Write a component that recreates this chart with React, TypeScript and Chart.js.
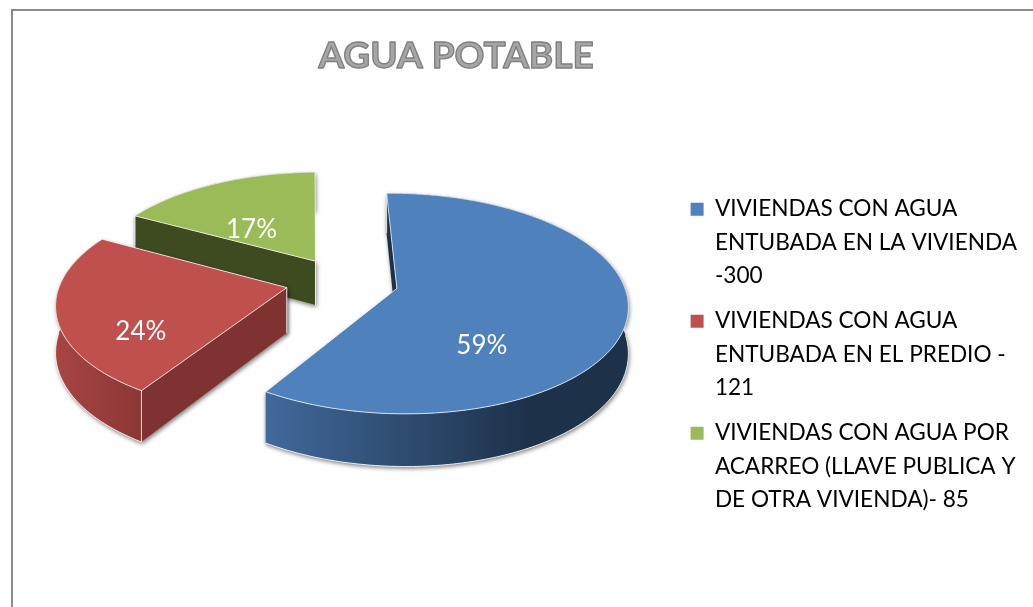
import React, { useEffect, useRef } from "react";
import { Chart, registerables } from "chart.js";

Chart.register(...registerables);

const TITLE = "AGUA POTABLE";
const CATEGORIES = [
  ["VIVIENDAS CON AGUA", "ENTUBADA EN LA VIVIENDA", "-300"],
  ["VIVIENDAS CON AGUA", "ENTUBADA EN EL PREDIO -", "121"],
  ["VIVIENDAS CON AGUA POR", "ACARREO (LLAVE PUBLICA Y", "DE OTRA VIVIENDA)- 85"],
];
const VALUES = [300, 121, 85];
const COLORS = ["#4f81bd", "#c0504d", "#9bbb59"];
const EXPLODE = [230, 222, 202];
const CUT_COLORS = ["#1d3149", "#7f3331", "#3e4a20"];
const RIM_COLORS = [
  ["#41699b", "#1d3149"],
  ["#a84543", "#8a3634"],
  ["#5d7032", "#3e4a20"],
];
const RIM_SPAN = [265, 90, 100];
const LABEL_SHIFT = [
  [85, 57],
  [-146, 44],
  [-64, -32],
];

const FONT = "Lato, Carlito, Calibri, sans-serif";
const CENTER_X = 341;
const CENTER_Y = 281;
const RATIO = 0.47;
const TILT = 0.136;
const DEPTH = 45;

const pie3d = {
  id: "pie3d",
  beforeDraw(chart: any) {
    const ctx = chart.ctx;
    ctx.save();
    ctx.fillStyle = "#ffffff";
    ctx.fillRect(0, 0, chart.width, chart.height);
    ctx.strokeStyle = "#8a8a8a";
    ctx.lineWidth = 2;
    ctx.strokeRect(12, 10, 2000, 2000);
    ctx.restore();
  },
  beforeDatasetsDraw(chart: any) {
    const ctx = chart.ctx;
    const arcs = chart.getDatasetMeta(0).data;
    const total = VALUES.reduce((a, b) => a + b, 0);
    const order = [2, 1, 0];
    for (const i of order) {
      const arc = arcs[i];
      const { startAngle, endAngle, outerRadius } = arc.getProps(["startAngle", "endAngle", "outerRadius"], true);
      const R = outerRadius;
      const mid = (startAngle + endAngle) / 2;
      const off = (arc.options.offset || 0) / 4;
      const ox = Math.cos(mid) * off;
      const oy = Math.sin(mid) * off;
      const proj = (x: number, y: number, z: number) => {
        const px = x + ox;
        const py = y + oy;
        const p = 1 / (1 - (TILT * py) / R);
        return [CENTER_X + px * p, CENTER_Y + py * RATIO * p + z * p];
      };
      const steps = Math.ceil(((endAngle - startAngle) * 180) / Math.PI);
      const angleAt = (s: number) => startAngle + ((endAngle - startAngle) * s) / steps;
      const rim = (z: number) => {
        const pts: number[][] = [];
        for (let s = 0; s <= steps; s++) {
          const a = angleAt(s);
          pts.push(proj(R * Math.cos(a), R * Math.sin(a), z));
        }
        return pts;
      };
      const top = rim(0);
      const bottom = rim(DEPTH);
      const apexTop = proj(0, 0, 0);
      const apexBottom = proj(0, 0, DEPTH);
      const poly = (pts: number[][]) => {
        ctx.beginPath();
        pts.forEach((p, k) => (k ? ctx.lineTo(p[0], p[1]) : ctx.moveTo(p[0], p[1])));
        ctx.closePath();
      };
      const startFace = [apexTop, top[0], bottom[0], apexBottom];
      const endFace = [apexTop, top[steps], bottom[steps], apexBottom];
      const startVisible = Math.sin(startAngle - Math.PI / 2) > 0;
      const endVisible = Math.sin(endAngle + Math.PI / 2) > 0;
      const strip = [...top, ...bottom.slice().reverse()];
      const minX = Math.min(...strip.map((p) => p[0]));
      const grad = ctx.createLinearGradient(minX, 0, minX + RIM_SPAN[i], 0);
      grad.addColorStop(0, RIM_COLORS[i][0]);
      grad.addColorStop(1, RIM_COLORS[i][1]);

      ctx.save();
      ctx.lineJoin = "round";
      ctx.shadowColor = "rgba(0,0,0,0.5)";
      ctx.shadowBlur = 4;
      ctx.shadowOffsetX = 1;
      ctx.shadowOffsetY = 2;
      ctx.fillStyle = "#d9d9d9";
      for (const f of [strip, startFace, endFace]) {
        poly(f);
        ctx.fill();
      }
      ctx.shadowColor = "transparent";
      ctx.fillStyle = grad;
      poly(strip);
      ctx.fill();
      ctx.fillStyle = CUT_COLORS[i];
      if (startVisible) {
        poly(startFace);
        ctx.fill();
      }
      if (endVisible) {
        poly(endFace);
        ctx.fill();
      }

      ctx.strokeStyle = "rgba(255,255,255,0.85)";
      ctx.lineWidth = 1;
      ctx.beginPath();
      let pen = false;
      bottom.forEach((p, k) => {
        if (Math.sin(angleAt(k)) <= 0) {
          pen = false;
          return;
        }
        if (pen) ctx.lineTo(p[0], p[1]);
        else ctx.moveTo(p[0], p[1]);
        pen = true;
      });
      ctx.stroke();
      ctx.beginPath();
      if (startVisible || endVisible) {
        ctx.moveTo(apexTop[0], apexTop[1]);
        ctx.lineTo(apexBottom[0], apexBottom[1]);
      }
      if (startVisible) {
        ctx.moveTo(top[0][0], top[0][1]);
        ctx.lineTo(bottom[0][0], bottom[0][1]);
      }
      if (endVisible) {
        ctx.moveTo(top[steps][0], top[steps][1]);
        ctx.lineTo(bottom[steps][0], bottom[steps][1]);
      }
      ctx.stroke();

      const face = [apexTop, ...top];
      poly(face);
      ctx.fillStyle = COLORS[i];
      ctx.fill();
      ctx.strokeStyle = "rgba(255,255,255,0.75)";
      ctx.stroke();
      ctx.restore();
    }
    for (const i of order) {
      const arc = arcs[i];
      const { startAngle, endAngle, outerRadius } = arc.getProps(["startAngle", "endAngle", "outerRadius"], true);
      const mid = (startAngle + endAngle) / 2;
      const off = (arc.options.offset || 0) / 4;
      const px = Math.cos(mid) * off;
      const py = Math.sin(mid) * off;
      const p = 1 / (1 - (TILT * py) / outerRadius);
      ctx.save();
      ctx.fillStyle = "#ffffff";
      ctx.font = `26px ${FONT}`;
      ctx.textAlign = "center";
      ctx.textBaseline = "middle";
      ctx.fillText(
        `${Math.round((VALUES[i] / total) * 100)}%`,
        CENTER_X + px * p + LABEL_SHIFT[i][0],
        CENTER_Y + py * RATIO * p + LABEL_SHIFT[i][1]
      );
      ctx.restore();
    }
    return false;
  },
  afterDraw(chart: any) {
    const ctx = chart.ctx;
    const t = chart.titleBlock;
    const opts = chart.options.plugins.title;
    ctx.save();
    ctx.font = `bold ${opts.font.size}px ${FONT}`;
    ctx.textAlign = "center";
    ctx.textBaseline = "middle";
    ctx.strokeStyle = "#808080";
    ctx.lineWidth = 1.4;
    ctx.lineJoin = "round";
    ctx.strokeText(TITLE, (t.left + t.right) / 2, t.top + opts.padding.top + (opts.font.size * 1.2) / 2);
    ctx.restore();
  },
};

export default function App() {
  const ref = useRef<HTMLCanvasElement>(null);
  useEffect(() => {
    const canvas = ref.current!;
    const ctx = canvas.getContext("2d")!;
    const titleFill = ctx.createLinearGradient(0, 42, 0, 68);
    titleFill.addColorStop(0, "#a6a6a6");
    titleFill.addColorStop(0.55, "#c0c0c0");
    titleFill.addColorStop(1, "#ececec");
    const chart = new Chart(canvas, {
      type: "pie",
      data: {
        labels: CATEGORIES as any,
        datasets: [
          {
            data: VALUES,
            backgroundColor: COLORS,
            offset: EXPLODE,
            borderWidth: 0,
          },
        ],
      },
      options: {
        responsive: false,
        animation: false,
        rotation: -1,
        radius: 226,
        layout: { padding: { top: 0, right: 6, bottom: 0, left: 233 } },
        plugins: {
          tooltip: { enabled: false },
          title: {
            display: true,
            text: TITLE,
            color: titleFill as any,
            font: { family: FONT, size: 37, weight: "bold", lineHeight: 1.2 },
            padding: { top: 34, bottom: 108 },
            align: "center",
            fullSize: false,
          },
          legend: {
            position: "right",
            align: "start",
            fullSize: false,
            labels: {
              color: "#000000",
              boxWidth: 13,
              boxHeight: 13,
              padding: 11.5,
              font: { family: FONT, size: 22.6, lineHeight: 33.5 / 22.6 },
            },
          },
        },
      } as any,
      plugins: [pie3d],
    });
    return () => chart.destroy();
  }, []);
  return (
    <div style={{ position: "fixed", left: 0, top: 0, width: 1033, height: 607, overflow: "hidden", background: "#fff" }}>
      <canvas ref={ref} width={1033} height={607} style={{ display: "block" }} />
    </div>
  );
}
